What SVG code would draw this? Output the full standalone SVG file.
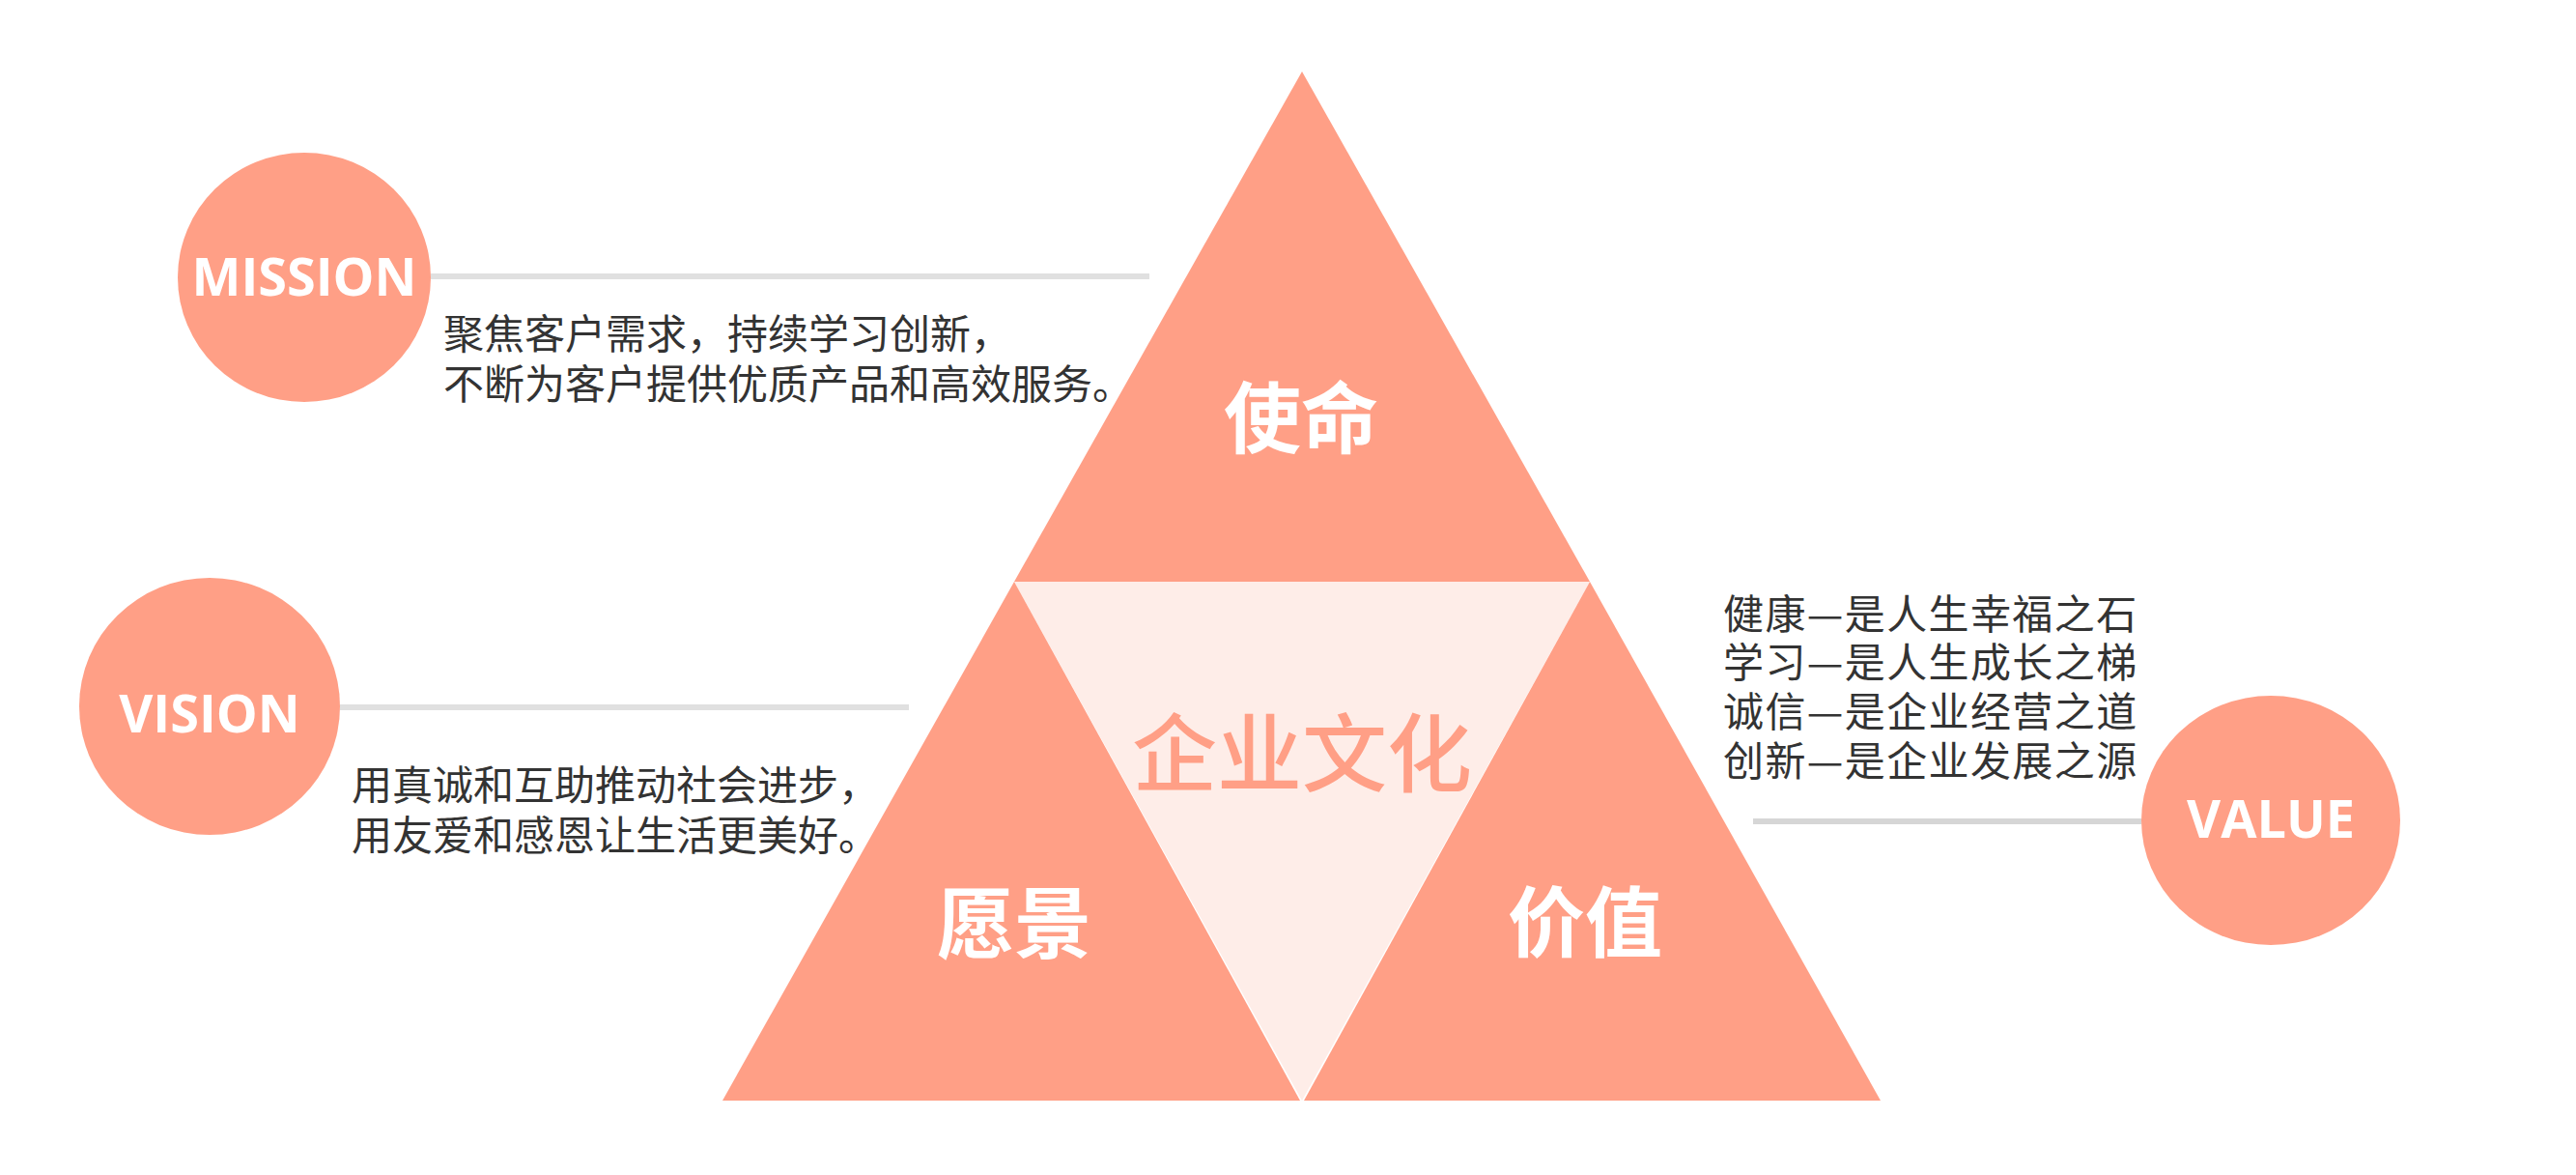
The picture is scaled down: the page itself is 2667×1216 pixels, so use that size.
<svg xmlns="http://www.w3.org/2000/svg" width="2667" height="1216" viewBox="0 0 2667 1216">
<style>
.tri{fill:#FF9F86}
.core{fill:#FEEDE8}
.blob{fill:#FF9F86}
.en{font-family:"Open Sans","Noto Sans","Liberation Sans",sans-serif;font-weight:bold;font-size:54px;fill:#FFFFFF;text-anchor:middle}
.big{font-family:"Noto Sans CJK SC","Noto Sans",sans-serif;font-weight:bold;font-size:80px;fill:#FFFFFF;text-anchor:middle}
.center{font-family:"Noto Sans CJK SC","Noto Sans",sans-serif;font-weight:500;font-size:88px;fill:#FF9F86;text-anchor:middle}
.desc{font-family:"Noto Sans CJK SC","Noto Sans",sans-serif;font-size:42px;fill:#333333}
.val{letter-spacing:1.4px}
.line{stroke:#E0E0E0;stroke-width:6;fill:none}
</style>
<rect width="2667" height="1216" fill="#FFFFFF"/>
<g id="connectors">
<line class="line" x1="446" y1="286" x2="1190" y2="286"/>
<line class="line" x1="352" y1="732" x2="941" y2="732"/>
<line class="line" x1="1815" y1="850" x2="2217" y2="850" style="stroke:#D6D6D6"/>
</g>
<g id="core">
<polygon class="core" points="1050,602 1646,602 1348,1139"/>
<text class="center" x="1348" y="812">企业文化</text>
</g>
<g id="mission-tri">
<polygon class="tri" points="1348,74 1050,602 1646,602"/>
<text class="big" x="1347" y="462">使命</text>
</g>
<g id="vision-tri">
<polygon class="tri" points="1050,602 748,1139 1346,1139"/>
<text class="big" x="1050" y="985">愿景</text>
</g>
<g id="value-tri">
<polygon class="tri" points="1646,602 1350,1139 1947,1139"/>
<text class="big" x="1641" y="984">价值</text>
</g>
<g id="mission">
<ellipse class="blob" cx="315" cy="287" rx="131" ry="129"/>
<text class="en" x="315" y="306">MISSION</text>
<text class="desc" x="459" y="361">聚焦客户需求，持续学习创新，</text>
<text class="desc" x="459" y="413">不断为客户提供优质产品和高效服务。</text>
</g>
<g id="vision">
<ellipse class="blob" cx="217" cy="731" rx="135" ry="133"/>
<text class="en" x="217" y="758">VISION</text>
<text class="desc" x="364" y="828">用真诚和互助推动社会进步，</text>
<text class="desc" x="364" y="880">用友爱和感恩让生活更美好。</text>
</g>
<g id="value">
<ellipse class="blob" cx="2351" cy="849" rx="134" ry="129"/>
<text class="en" x="2351" y="867">VALUE</text>
<text class="desc val" x="1784" y="651">健康—是人生幸福之石</text>
<text class="desc val" x="1784" y="701">学习—是人生成长之梯</text>
<text class="desc val" x="1784" y="752">诚信—是企业经营之道</text>
<text class="desc val" x="1784" y="803">创新—是企业发展之源</text>
</g>
</svg>
